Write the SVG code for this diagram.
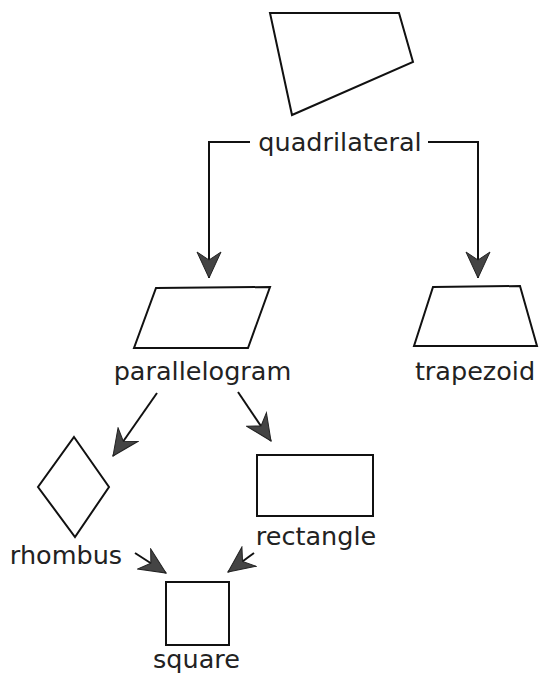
<svg xmlns="http://www.w3.org/2000/svg" width="539" height="675" viewBox="0 0 539 675">
<style>
.shape{fill:none;stroke:#111;stroke-width:2;stroke-linejoin:miter}
.lbl{font-family:"DejaVu Sans",Verdana,sans-serif;font-size:25.5px;fill:#222;text-anchor:middle}
.conn{fill:none;stroke:#111;stroke-width:2}
</style>
<defs>
<marker id="ah" markerUnits="userSpaceOnUse" viewBox="-27 -13 28 26" markerWidth="28" markerHeight="26" refX="0" refY="0" orient="auto">
<path d="M0,0 L-26,-12 L-18,0 L-26,12 Z" fill="#444" stroke="#222" stroke-width="1"/>
</marker>
</defs>
<rect width="539" height="675" fill="#fff"/>
<g id="quadrilateral">
<polygon class="shape" points="270,13 399,13 413,62 292,115"/>
<text class="lbl" x="340" y="151">quadrilateral</text>
</g>
<g id="parallelogram">
<polygon class="shape" points="156,288 270,287 248,348 134,348"/>
<text class="lbl" x="202.5" y="380">parallelogram</text>
</g>
<g id="trapezoid">
<polygon class="shape" points="433,287 520,286 537,346 414,346"/>
<text class="lbl" x="475" y="380">trapezoid</text>
</g>
<g id="rhombus">
<polygon class="shape" points="74,437 109,487 75,537 38,487"/>
<text class="lbl" x="66" y="564">rhombus</text>
</g>
<g id="rectangle">
<rect class="shape" x="257" y="455" width="116" height="61"/>
<text class="lbl" x="316" y="545">rectangle</text>
</g>
<g id="square">
<rect class="shape" x="166" y="582" width="63" height="63"/>
<text class="lbl" x="196.5" y="668">square</text>
</g>
<g id="connectors">
<polyline class="conn" points="250,142 209,142 209,278" marker-end="url(#ah)"/>
<polyline class="conn" points="428,142 478,142 478,278" marker-end="url(#ah)"/>
<line class="conn" x1="157" y1="393" x2="113" y2="456" marker-end="url(#ah)"/>
<line class="conn" x1="238" y1="392" x2="271" y2="441" marker-end="url(#ah)"/>
<line class="conn" x1="135" y1="553" x2="166" y2="573" marker-end="url(#ah)"/>
<line class="conn" x1="254" y1="553" x2="228" y2="572" marker-end="url(#ah)"/>
</g>
</svg>
